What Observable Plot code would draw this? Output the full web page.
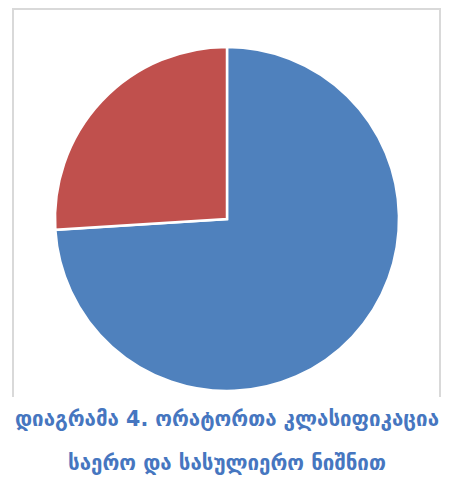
<!DOCTYPE html>
<html>
<head>
<meta charset="utf-8">
<script src="https://cdn.jsdelivr.net/npm/d3@7"></script>
<script src="https://cdn.jsdelivr.net/npm/@observablehq/plot@0.6"></script>
<style>
  html, body { margin: 0; padding: 0; background: #fff; }
  #wrap { position: relative; width: 450px; height: 479px; overflow: hidden; }
  #frame { position: absolute; left: 12px; top: 8px; width: 429px; height: 389px;
           border: 2px solid #d9d9d9; border-bottom: none; box-sizing: border-box; }
  #chart { position: absolute; left: 0; top: 0; }
  .cap { position: absolute; left: 0; width: 454px; text-align: center;
         color: #4676c0; font-family: "DejaVu Sans", sans-serif; font-size: 20.5px;
         font-weight: bold; line-height: 26px; white-space: nowrap; }
  #cap1 { top: 406px; }
  #cap2 { top: 450px; }
</style>
</head>
<body>
<div id="wrap">
  <div id="frame"></div>
  <div id="chart"></div>
  <div class="cap" id="cap1">დიაგრამა 4. ორატორთა კლასიფიკაცია</div>
  <div class="cap" id="cap2">საერო და სასულიერო ნიშნით</div>
</div>
<script>
const categories = ["საერო", "სასულიერო"];
const values = [74, 26];
const colors = ["#4f81bd", "#c0504d"];

const data = categories.map((c, i) => ({category: c, value: values[i]}));
const arcs = d3.pie().sort(null).value(d => d.value)(data);

function pieMark(index, scales, vals, dimensions, context) {
  const cx = scales.x(0), cy = scales.y(0);
  const r = Math.abs(scales.x(1) - scales.x(0));
  const arc = d3.arc().innerRadius(0).outerRadius(r);
  const g = d3.create("svg:g").attr("transform", `translate(${cx},${cy})`);
  g.selectAll("path").data(arcs).join("path")
    .attr("d", arc)
    .attr("fill", d => scales.color(d.data.category))
    .attr("stroke", "#fff")
    .attr("stroke-width", 2.5)
    .attr("stroke-linejoin", "miter");
  return g.node();
}

const chart = Plot.plot({
  width: 450,
  height: 400,
  marginLeft: 55,
  marginRight: 51,
  marginTop: 47,
  marginBottom: 9,
  x: {domain: [-1, 1], axis: null},
  y: {domain: [-1, 1], axis: null},
  color: {domain: categories, range: colors},
  marks: [pieMark]
});
document.getElementById("chart").appendChild(chart);
</script>
</body>
</html>
